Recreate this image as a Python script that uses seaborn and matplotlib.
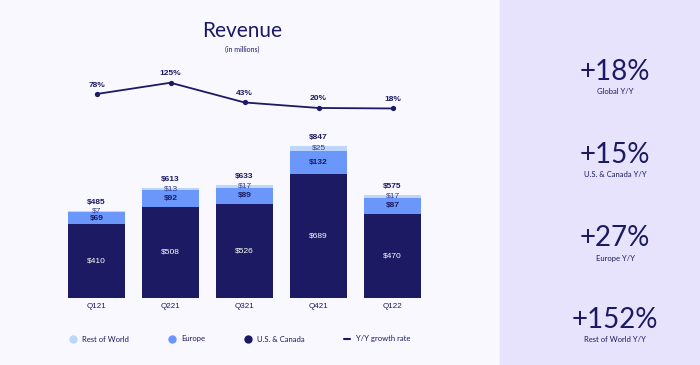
import numpy as np
import pandas as pd
import matplotlib
matplotlib.use("Agg")
import matplotlib.pyplot as plt
import seaborn as sns
from matplotlib.lines import Line2D

# Revenue data (in millions)
quarters = ["Q121", "Q221", "Q321", "Q421", "Q122"]
us_canada = [410, 508, 526, 689, 470]
europe = [69, 92, 89, 132, 87]
rest_of_world = [7, 13, 17, 25, 17]
totals = [485, 613, 633, 847, 575]
growth = [78, 125, 43, 20, 18]

kpi_values = ["+18%", "+15%", "+27%", "+152%"]
kpi_labels = ["Global Y/Y", "U.S. & Canada Y/Y", "Europe Y/Y", "Rest of World Y/Y"]

navy = "#1b1a62"
blue = "#6b97fb"
light = "#bcd7fb"
bg = "#f8f8fe"
panel = "#e8e3fc"

sns.set_theme(style="white")
plt.rcParams["font.family"] = ["Lato", "DejaVu Sans"]

W, H = 700, 365
fig = plt.figure(figsize=(7, 3.65), dpi=100, facecolor=bg)
fig.patches.append(plt.Rectangle((500 / W, 0), 200 / W, 1, transform=fig.transFigure,
                                 color=panel, zorder=0))

df = pd.DataFrame({"quarter": quarters, "us": us_canada, "eu": europe, "row": rest_of_world})
df["eu_cum"] = df["us"] + df["eu"]
df["row_cum"] = df["eu_cum"] + df["row"]

# Step 1: stacked bars
ax = fig.add_axes([59.5 / W, (H - 298) / H, 370 / W, 168 / H])
ax.set_facecolor("none")
sns.barplot(data=df, x="quarter", y="row_cum", color=light, width=0.78, saturation=1, linewidth=0, ax=ax)
sns.barplot(data=df, x="quarter", y="eu_cum", color=blue, width=0.78, saturation=1, linewidth=0, ax=ax)
sns.barplot(data=df, x="quarter", y="us", color=navy, width=0.78, saturation=1, linewidth=0, ax=ax)
ax.set_ylim(0, 936)
ax.set_xlim(-0.5, 4.5)
ax.set_xlabel("")
ax.set_ylabel("")
ax.set_yticks([])
ax.tick_params(axis="x", length=0, labelsize=5.8, colors=navy, pad=3.5)
for lab in ax.get_xticklabels():
    lab.set_fontfamily(["Liberation Sans", "DejaVu Sans"])
sns.despine(ax=ax, left=True, bottom=True)

lab_font = ["Liberation Sans", "DejaVu Sans"]
fs = 6
for i in range(len(quarters)):
    us, eu, rw = df.loc[i, "us"], df.loc[i, "eu"], df.loc[i, "row"]
    ax.annotate(f"${totals[i]}", (i, df.loc[i, "row_cum"]), xytext=(0, 6), textcoords="offset points",
                ha="center", va="center", fontsize=fs, fontweight="bold", color=navy, family=lab_font)
    ax.text(i, us + eu + rw / 2, f"${rw}", ha="center", va="center", fontsize=fs,
            color="#3a3d86", family=lab_font)
    ax.text(i, us + eu / 2, f"${eu}", ha="center", va="center", fontsize=fs,
            fontweight="bold", color=navy, family=lab_font)
    ax.text(i, us / 2, f"${us}", ha="center", va="center", fontsize=fs,
            color="white", family=lab_font)

# Step 2: growth line
lax = fig.add_axes([59.5 / W, (H - 115) / H, 370 / W, 45 / H])
lax.set_facecolor("none")
sns.lineplot(x=list(range(len(quarters))), y=growth, ax=lax, color=navy, linewidth=1.3,
             marker="o", markersize=3.8, markeredgewidth=0)
lax.set_xlim(-0.5, 4.5)
lax.set_ylim(-9.2, 178)
lax.axis("off")
for i, g in enumerate(growth):
    lax.annotate(f"{g}%", (i, g), xytext=(0, 6.5), textcoords="offset points", ha="center",
                 va="center", fontsize=fs, fontweight="bold", color=navy, family=lab_font)

# Title
fig.text(242 / W, 1 - 31 / H, "Revenue", ha="center", va="center", fontsize=15, color=navy)
fig.text(242 / W, 1 - 49 / H, "(in millions)", ha="center", va="center", fontsize=5, color=navy)

# Legend
handles = [
    Line2D([], [], marker="o", linestyle="", color=light, markersize=5),
    Line2D([], [], marker="o", linestyle="", color=blue, markersize=5),
    Line2D([], [], marker="o", linestyle="", color=navy, markersize=5),
    Line2D([], [], color=navy, linewidth=1.5),
]
fig.legend(handles, ["Rest of World", "Europe", "U.S. & Canada", "Y/Y growth rate"],
           loc="center left", bbox_to_anchor=(63 / W, 1 - 339 / H), ncol=4, frameon=False,
           fontsize=5.5, handlelength=0.8, handletextpad=0.8, columnspacing=5.2,
           labelcolor=navy)

# Right panel KPIs
kpi_y = [72, 155, 238, 320]
for val, lab, y in zip(kpi_values, kpi_labels, kpi_y):
    fig.text(615 / W, 1 - y / H, val, ha="center", va="center", fontsize=20, color=navy)
    fig.text(615 / W, 1 - (y + 20) / H, lab, ha="center", va="center", fontsize=5.5, color=navy)

fig.savefig("out.png", dpi=100, facecolor=bg)
